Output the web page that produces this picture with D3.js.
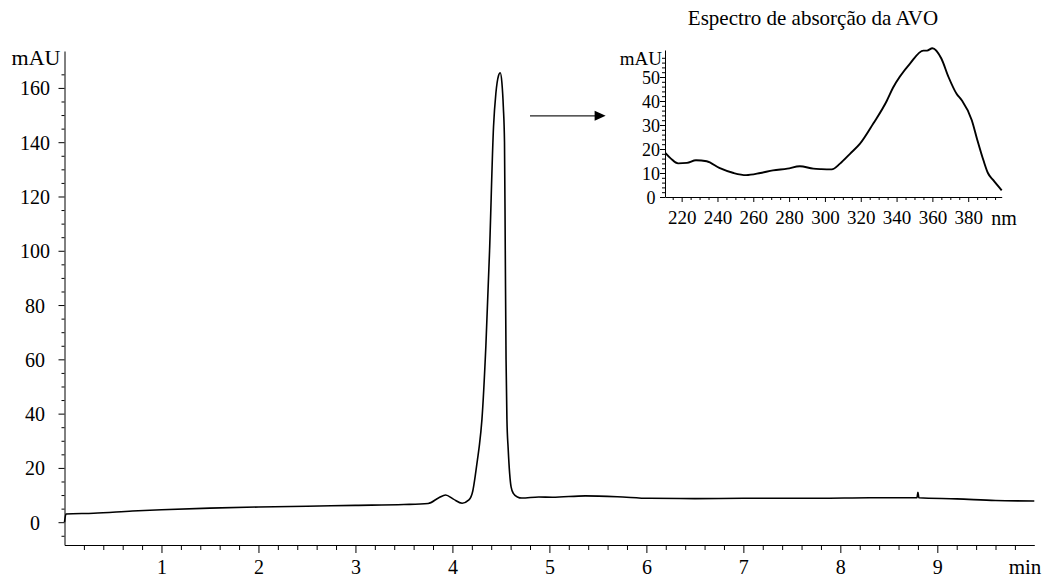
<!DOCTYPE html>
<html><head><meta charset="utf-8">
<script src="https://cdn.jsdelivr.net/npm/d3@7"></script>
<style>
body{margin:0;background:#fff}
svg{display:block}
svg text{font-family:"Liberation Serif","Times New Roman",Times,"DejaVu Serif","Noto Serif",serif !important;fill:#000}
</style>
</head><body>
<svg id="c" width="1049" height="581"></svg>
<script>
// ---- Chromatogram data (time in min, absorbance in mAU)
const chromTime = [0, 0.015, 0.3, 0.7, 1.0, 1.5, 2.0, 2.5, 3.0, 3.5, 3.75, 3.86, 3.93, 4.01, 4.1, 4.17, 4.21, 4.235, 4.258, 4.277, 4.304, 4.345, 4.383, 4.424, 4.448, 4.475, 4.493, 4.51, 4.525, 4.537, 4.545, 4.553, 4.562, 4.575, 4.59, 4.605, 4.63, 4.67, 4.715, 4.89, 5.03, 5.37, 5.7, 6.03, 6.5, 7.0, 7.5, 7.78, 8.3, 8.79, 8.80, 8.81, 9.2, 9.6, 10.0];
const chromAbs  = [0, 3.0, 3.3, 4.1, 4.6, 5.2, 5.6, 5.9, 6.2, 6.5, 6.9, 9.0, 10.0, 8.5, 7.0, 8.2, 11.5, 17, 23, 28, 37.7, 65, 100, 145.8, 158, 164.5, 165.6, 162, 153, 140, 100, 60, 38, 27, 18, 13, 10.5, 9.3, 8.9, 9.3, 9.2, 9.7, 9.4, 8.8, 8.7, 8.8, 8.8, 8.8, 9.0, 9.0, 11.0, 9.0, 8.6, 8.0, 7.8];
const chromYTicks = [0, 20, 40, 60, 80, 100, 120, 140, 160];
const chromXTicks = [1, 2, 3, 4, 5, 6, 7, 8, 9];

// ---- Inset absorption spectrum (wavelength nm, mAU)
const specWavelength = [211, 214, 218, 223, 228, 234, 241, 249, 256, 264, 271, 279, 286, 293.5, 298, 303.8, 308.4, 314, 319.6, 327, 334.5, 338, 347.5, 355, 357, 360, 365, 369, 373.5, 376.4, 382, 385, 388.5, 391, 394, 398.7];
const specAbs        = [18.3, 16, 14, 14.2, 15.3, 14.9, 12.1, 10, 9.1, 10, 11.1, 11.8, 12.8, 11.8, 11.6, 11.5, 13.9, 18, 22.2, 30.6, 40, 45.5, 55.6, 61, 61, 62, 57.7, 50, 43, 40.3, 32, 24, 15.3, 10, 7, 2.8];
const specYTicks = [0, 10, 20, 30, 40, 50];
const specXTicks = [220, 240, 260, 280, 300, 320, 340, 360, 380];
const titleText = "Espectro de absorção da AVO";

const svg = d3.select("#c");
const SERIF = '"Liberation Serif","Times New Roman",Times,"DejaVu Serif",serif';

// ================= Main chromatogram =================
const x = d3.scaleLinear().domain([0, 10]).range([64.5, 1034.3]);
const y = d3.scaleLinear().domain([-8.4, 173.6]).range([545, 51]);

const xMinor = d3.range(1, 50).filter(i => i % 5 !== 0).map(i => i / 5);
svg.append("g").attr("transform", "translate(0,545)")
  .call(d3.axisBottom(x).tickValues(xMinor).tickSize(5).tickSizeOuter(0).tickFormat(""))
  .call(g => g.select(".domain").remove());
const gx = svg.append("g").attr("transform", "translate(0,545)")
  .call(d3.axisBottom(x).tickValues(chromXTicks).tickSize(8).tickSizeOuter(0).tickFormat(d3.format("d")));
gx.attr("font-family", SERIF);
gx.selectAll("text").attr("y", 22).attr("dy", "0.35em").attr("font-size", 20);

const yMinor = d3.range(-5, 170, 5).filter(v => v % 20 !== 0);
svg.append("g").attr("transform", "translate(64.5,0)")
  .call(d3.axisLeft(y).tickValues(yMinor).tickSize(3).tickSizeOuter(0).tickFormat(""))
  .call(g => g.select(".domain").remove());
const gy = svg.append("g").attr("transform", "translate(64.5,0)")
  .call(d3.axisLeft(y).tickValues(chromYTicks).tickSize(6).tickSizeOuter(0).tickFormat(d3.format("d")));
gy.attr("font-family", SERIF);
gy.selectAll("text").attr("x", -29.5).attr("dy", "0.35em").attr("text-anchor", "middle").attr("font-size", 20);

svg.append("text").attr("x", 36).attr("y", 57).attr("dy", "0.35em").attr("text-anchor", "middle")
  .attr("font-size", 22).text("mAU");
svg.append("text").attr("x", 1025).attr("y", 567).attr("dy", "0.35em").attr("text-anchor", "middle")
  .attr("font-size", 21).text("min");

const chromData = chromTime.map((t, i) => [t, chromAbs[i]]);
svg.append("path").datum(chromData)
  .attr("fill", "none").attr("stroke", "#000").attr("stroke-width", 1.6).attr("stroke-linejoin", "round")
  .attr("d", d3.line().x(d => x(d[0])).y(d => y(d[1])).curve(d3.curveMonotoneX));

// arrow pointing to inset
const ax0 = x(4.8), ax1 = x(5.58), ay = y(149.7);
svg.append("line").attr("x1", ax0).attr("x2", ax1 - 9).attr("y1", ay).attr("y2", ay)
  .attr("stroke", "#222").attr("stroke-width", 1.2);
svg.append("path").attr("d", `M${ax1},${ay} L${ax1 - 11},${ay - 5} L${ax1 - 11},${ay + 5} Z`).attr("fill", "#000");

// ================= Inset spectrum =================
const xs = d3.scaleLinear().domain([210.7, 398.7]).range([665, 1001.7]);
const ys = d3.scaleLinear().domain([0, 61.25]).range([197, 50]);

const sxMinor = d3.range(215, 400, 5).filter(v => v % 20 !== 0);
svg.append("g").attr("transform", "translate(0,197)")
  .call(d3.axisBottom(xs).tickValues(sxMinor).tickSize(3).tickSizeOuter(0).tickFormat(""))
  .call(g => g.select(".domain").remove());
const sgx = svg.append("g").attr("transform", "translate(0,197)")
  .call(d3.axisBottom(xs).tickValues(specXTicks).tickSize(5).tickSizeOuter(0).tickFormat(d3.format("d")));
sgx.attr("font-family", SERIF);
sgx.selectAll("text").attr("y", 20).attr("dy", "0.35em").attr("font-size", 19);

const syMinor = d3.range(2, 62, 2).filter(v => v % 10 !== 0);
svg.append("g").attr("transform", "translate(665,0)")
  .call(d3.axisLeft(ys).tickValues(syMinor).tickSize(3).tickSizeOuter(0).tickFormat(""))
  .call(g => g.select(".domain").remove());
const sgy = svg.append("g").attr("transform", "translate(665,0)")
  .call(d3.axisLeft(ys).tickValues(specYTicks).tickSize(5).tickSizeOuter(0).tickFormat(d3.format("d")));
sgy.attr("font-family", SERIF);
sgy.selectAll("text").attr("x", -14).attr("dy", "0.35em").attr("text-anchor", "middle").attr("font-size", 18);

svg.selectAll(".domain, .tick line").attr("stroke", "#000");

svg.append("text").attr("x", 662).attr("y", 58).attr("dy", "0.35em").attr("text-anchor", "end")
  .attr("font-size", 19).text("mAU");
svg.append("text").attr("x", 1004).attr("y", 218).attr("dy", "0.35em").attr("text-anchor", "middle")
  .attr("font-size", 20).text("nm");
svg.append("text").attr("x", 813).attr("y", 18).attr("dy", "0.35em").attr("text-anchor", "middle")
  .attr("font-size", 21).text(titleText);

const specData = specWavelength.map((w, i) => [w, specAbs[i]]);
svg.append("path").datum(specData)
  .attr("fill", "none").attr("stroke", "#000").attr("stroke-width", 1.9).attr("stroke-linejoin", "round")
  .attr("d", d3.line().x(d => xs(d[0])).y(d => ys(d[1])).curve(d3.curveMonotoneX));
</script>
</body></html>
